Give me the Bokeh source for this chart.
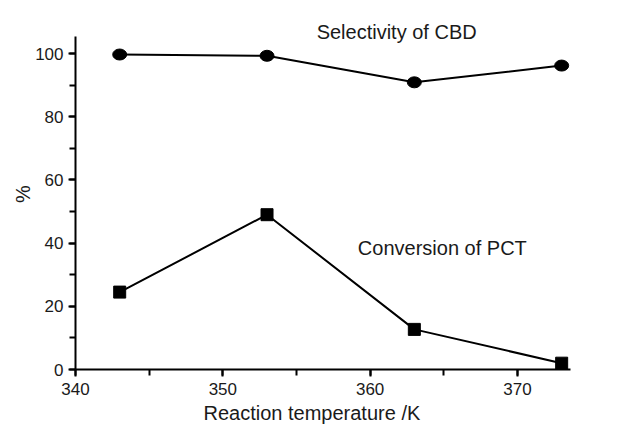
from bokeh.plotting import figure
from bokeh.models import SingleIntervalTicker, Label, Range1d, Title
from bokeh.embed import file_html
from bokeh.resources import INLINE

temperature = [343, 353, 363, 373]
selectivity_cbd = [99.7, 99.3, 90.9, 96.2]
conversion_pct = [24.5, 49.0, 12.7, 2.0]

FONT = "Liberation Sans"
TXT = "#1a1a1a"

p = figure(width=600, height=428, output_backend="svg", toolbar_location=None,
           x_range=Range1d(340, 373.6), y_range=Range1d(0, 111.1),
           min_border_left=75, min_border_right=30, min_border_top=18, min_border_bottom=59)
p.outline_line_color = None
p.xgrid.visible = False
p.ygrid.visible = False
p.background_fill_color = "white"
p.border_fill_color = "white"

p.xaxis.ticker = SingleIntervalTicker(interval=10, num_minor_ticks=2)
p.yaxis.ticker = SingleIntervalTicker(interval=20, num_minor_ticks=2)
p.xaxis.bounds = (340, 373.6)
p.yaxis.bounds = (0, 105.4)
for ax in (p.xaxis, p.yaxis):
    ax.axis_line_width = 2
    ax.axis_line_color = "black"
    ax.major_tick_line_width = 2
    ax.minor_tick_line_width = 2
    ax.major_tick_in = 0
    ax.minor_tick_in = 0
    ax.major_tick_out = 7
    ax.minor_tick_out = 6
    ax.major_label_text_font = FONT
    ax.major_label_text_font_size = "17px"
    ax.major_label_text_color = TXT
    ax.axis_label_text_font = FONT
    ax.axis_label_text_font_size = "20px"
    ax.axis_label_text_font_style = "normal"
    ax.axis_label_text_color = TXT
p.yaxis.axis_label = "%"
p.xaxis.major_label_standoff = 6
p.yaxis.major_label_standoff = 5
p.yaxis.axis_label_standoff = -2

xlabel = Title(text="Reaction temperature /K", align="left", offset=128, standoff=5,
               text_font=FONT, text_font_size="20px", text_font_style="normal",
               text_color=TXT)
p.add_layout(xlabel, "below")

p.line(temperature, selectivity_cbd, line_color="black", line_width=2)
p.ellipse(temperature, selectivity_cbd, width=14, height=11,
          width_units="screen", height_units="screen",
          fill_color="black", line_color="black")
p.line(temperature, conversion_pct, line_color="black", line_width=2)
p.scatter(temperature, conversion_pct, marker="square", size=12,
          fill_color="black", line_color="black")

p.add_layout(Label(x=361.8, y=106.7, text="Selectivity of CBD", text_align="center",
                   text_baseline="alphabetic", text_font=FONT, text_font_size="20px",
                   text_color=TXT))
p.add_layout(Label(x=364.9, y=38.3, text="Conversion of PCT", text_align="center",
                   text_baseline="alphabetic", text_font=FONT, text_font_size="20px",
                   text_color=TXT))

open("out.html", "w").write(file_html(p, INLINE))
